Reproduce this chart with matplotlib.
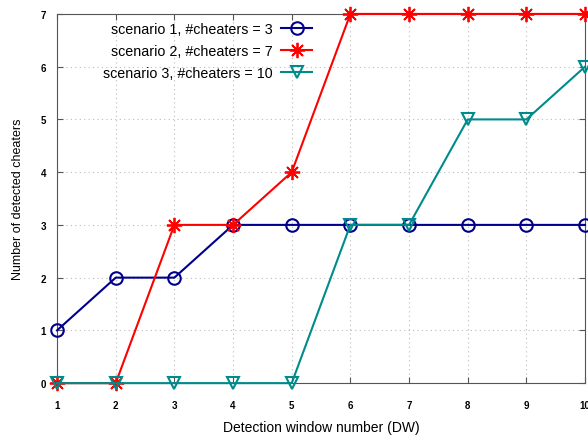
import matplotlib
matplotlib.use("Agg")
import matplotlib.pyplot as plt

# janelas de deteccao
dw = [1, 2, 3, 4, 5, 6, 7, 8, 9, 10]

# numero de cheaters detectados por cenario
cen1 = [1, 2, 2, 3, 3, 3, 3, 3, 3, 3]
cen2 = [0, 0, 3, 3, 4, 7, 7, 7, 7, 7]
cen3 = [0, 0, 0, 0, 0, 3, 3, 5, 5, 6]

rotulos = ["scenario 1, #cheaters = 3",
           "scenario 2, #cheaters = 7",
           "scenario 3, #cheaters = 10"]

plt.rcParams['font.family'] = ['Liberation Sans', 'DejaVu Sans']

fig = plt.figure(figsize=(5.88, 4.39), dpi=100)
ax = fig.add_axes([0.097, 0.125, 0.898, 0.841])

ax.plot(dw, cen1, color='#00008b', lw=1.5, marker='o', ms=9,
        mfc='none', mew=1.5, label=rotulos[0], clip_on=False, zorder=3)
ax.plot(dw, cen2, color='#ff0000', lw=1.5, marker=(8, 2, 0), ms=11,
        mew=1.3, label=rotulos[1], clip_on=False, zorder=3)
ax.plot(dw, cen3, color='#008b8b', lw=1.5, marker='v', ms=9,
        mfc='none', mew=1.5, label=rotulos[2], clip_on=False, zorder=3)

ax.set_xlim(1, 10)
ax.set_ylim(0, 7)
ax.set_xticks(dw)
ax.set_yticks(range(0, 8))
ax.tick_params(direction='in', labelsize=7, length=4, top=True, right=True,
               color='#555555')
ax.tick_params(axis='x', pad=12)
ax.tick_params(axis='y', pad=8)
for lbl in ax.get_xticklabels() + ax.get_yticklabels():
    lbl.set_fontweight('bold')
ax.grid(True, linestyle=(0, (1, 3)), color='#bbbbbb', lw=0.8)
for s in ax.spines.values():
    s.set_color('#555555')

ax.set_xlabel("Detection window number (DW)", fontsize=10, labelpad=7)
ax.set_ylabel("Number of detected cheaters", fontsize=9, labelpad=12)

ax.legend(loc='upper left', bbox_to_anchor=(0.062, 1.012), frameon=False,
          markerfirst=False, fontsize=10.3, handlelength=2.2,
          labelspacing=0.55, handletextpad=0.6, alignment='right')

fig.savefig("out.png", dpi=100)
